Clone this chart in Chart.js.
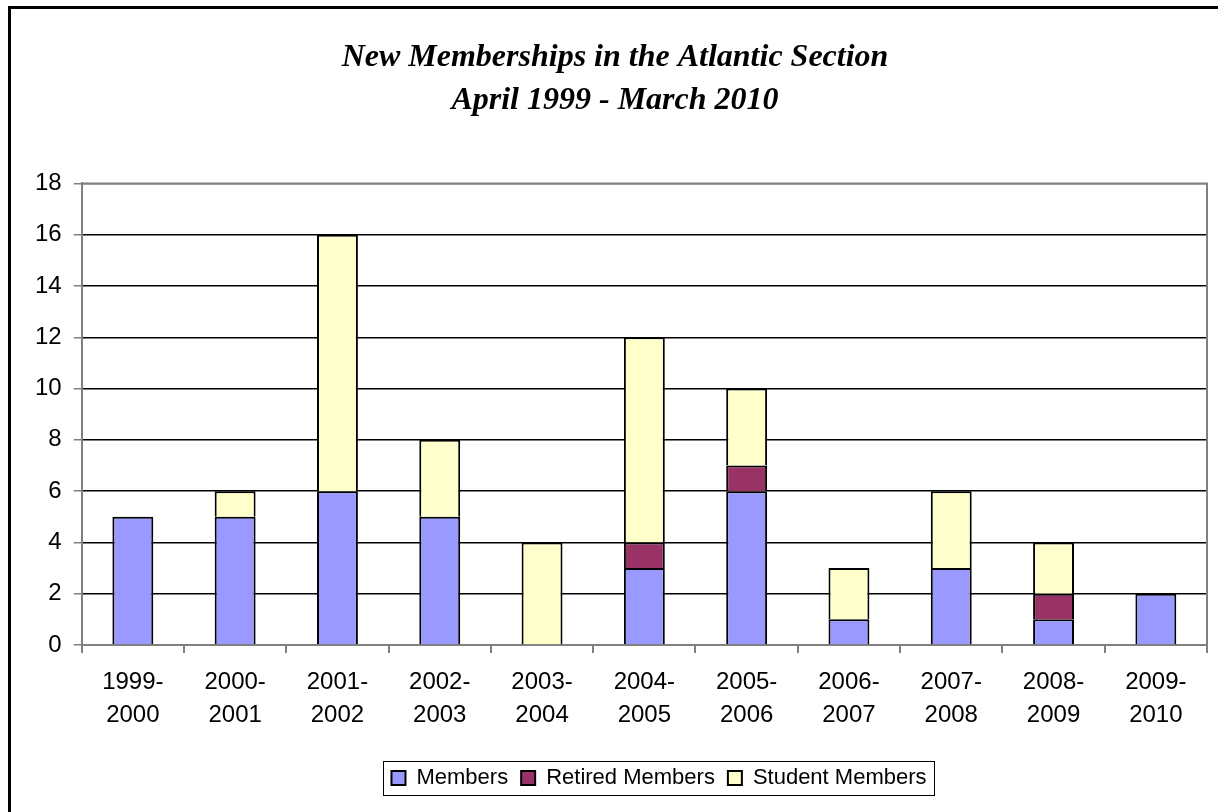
<!DOCTYPE html>
<html>
<head>
<meta charset="utf-8">
<script src="https://cdn.jsdelivr.net/npm/chart.js@4/dist/chart.umd.min.js"></script>
<style>
  html, body { margin: 0; padding: 0; background: #fff; }
  #wrap { width: 1218px; height: 812px; position: relative; }
</style>
</head>
<body>
<div id="wrap"><canvas id="members"></canvas></div>
<script>
// Data
const periods = [
    ['1999-', '2000'], ['2000-', '2001'], ['2001-', '2002'], ['2002-', '2003'],
    ['2003-', '2004'], ['2004-', '2005'], ['2005-', '2006'], ['2006-', '2007'],
    ['2007-', '2008'], ['2008-', '2009'], ['2009-', '2010']
];
const members        = [5, 5, 6, 5, 0, 3, 6, 1, 3, 1, 2];
const retiredMembers = [0, 0, 0, 0, 0, 1, 1, 0, 0, 1, 0];
const studentMembers = [0, 1, 10, 3, 4, 8, 3, 2, 3, 2, 0];
const titleLines = ['New Memberships in the Atlantic Section', 'April 1999 - March 2010'];

const sansFont = 'Arial, "Liberation Sans", sans-serif';
const gridGray = '#808080';
const legendShift = 44; // legend sits right of centre in the original

// white background + frame lines around the page
const framePlugin = {
    id: 'frame',
    afterLayout(chart) {
        chart.legend.left += legendShift;
        chart.legend.right += legendShift;
    },
    beforeDraw(chart) {
        const ctx = chart.ctx;
        ctx.save();
        ctx.fillStyle = '#fff';
        ctx.fillRect(0, 0, chart.width, chart.height);
        ctx.strokeStyle = '#000';
        ctx.lineWidth = 3;
        ctx.beginPath();
        ctx.moveTo(9.5, chart.height);
        ctx.lineTo(9.5, 7.5);
        ctx.lineTo(chart.width, 7.5);
        ctx.stroke();
        ctx.restore();
    },
    afterDraw(chart) {
        const ctx = chart.ctx;
        const area = chart.chartArea;
        ctx.save();
        // gray plot border on top and right
        ctx.strokeStyle = gridGray;
        ctx.lineWidth = 2;
        ctx.beginPath();
        ctx.moveTo(area.left, area.top);
        ctx.lineTo(area.right, area.top);
        ctx.lineTo(area.right, area.bottom);
        ctx.stroke();
        // box round the legend items
        const boxes = chart.legend.legendHitBoxes;
        if (boxes && boxes.length) {
            const left = Math.min(...boxes.map(b => b.left)) - 8;
            const right = Math.max(...boxes.map(b => b.left + b.width)) + 8;
            const top = Math.min(...boxes.map(b => b.top)) - 6;
            const bottom = Math.max(...boxes.map(b => b.top + b.height)) + 6;
            ctx.strokeStyle = '#000';
            ctx.lineWidth = 1;
            ctx.strokeRect(Math.round(left) + 0.5, Math.round(top) + 0.5, Math.round(right - left), Math.round(bottom - top));
        }
        ctx.restore();
    }
};

// zero-height segments are left out so they don't draw a stray border
function makeSet(label, data, color) {
    return {
        label: label,
        data: data.map(v => v === 0 ? null : v),
        backgroundColor: color,
        borderColor: '#000',
        borderWidth: 2,
        borderSkipped: 'bottom',
        barPercentage: 0.4,
        categoryPercentage: 1.0
    };
}

const ctx = document.getElementById('members').getContext('2d');
new Chart(ctx, {
    type: 'bar',
    data: {
        labels: periods,
        datasets: [
            makeSet('Members', members, '#9999FF'),
            makeSet('Retired Members', retiredMembers, '#993366'),
            makeSet('Student Members', studentMembers, '#FFFFCC')
        ]
    },
    options: {
        responsive: true,
        maintainAspectRatio: false,
        animation: false,
        layout: { padding: { left: 23, right: 11, top: 0, bottom: 13 } },
        plugins: {
            title: {
                display: true,
                text: titleLines,
                color: '#000',
                font: { family: '"Liberation Serif", "Times New Roman", serif', size: 32, style: 'italic', weight: 'bold', lineHeight: 1.35 },
                padding: { top: 36, bottom: 61 }
            },
            legend: {
                position: 'bottom',
                labels: {
                    color: '#000',
                    font: { family: sansFont, size: 22 },
                    boxWidth: 14,
                    boxHeight: 14,
                    padding: 13
                }
            },
            tooltip: { enabled: false }
        },
        scales: {
            x: {
                stacked: true,
                afterFit(scale) { scale.height += 9; },
                grid: {
                    display: true,
                    drawOnChartArea: false,
                    drawTicks: true,
                    tickLength: 8,
                    offset: true,
                    color: gridGray,
                    lineWidth: 2
                },
                border: { color: gridGray, width: 2 },
                ticks: {
                    color: '#000',
                    font: { family: sansFont, size: 24, lineHeight: 1.375 },
                    padding: 13,
                    maxRotation: 0,
                    autoSkip: false
                }
            },
            y: {
                stacked: true,
                min: 0,
                max: 18,
                grid: {
                    color: ctx => (ctx.tick && (ctx.tick.value === 18 || ctx.tick.value === 0)) ? gridGray : '#000',
                    lineWidth: 1.5,
                    tickLength: 8,
                    tickColor: gridGray
                },
                border: { color: gridGray, width: 2 },
                ticks: {
                    stepSize: 2,
                    color: '#000',
                    font: { family: sansFont, size: 24 },
                    padding: 12
                }
            }
        }
    },
    plugins: [framePlugin]
});
</script>
</body>
</html>
